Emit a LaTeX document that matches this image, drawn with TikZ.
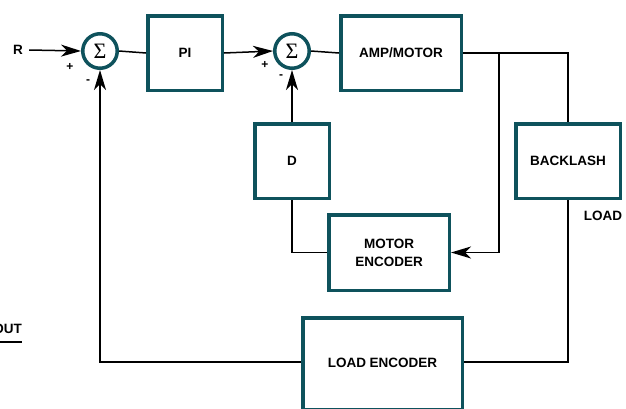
\documentclass[tikz,border=0pt]{standalone}
\usepackage{fontspec}
\setmainfont{Liberation Sans}
\newfontfamily\sigfont{Liberation Serif}
\usetikzlibrary{arrows.meta}
\definecolor{tealbox}{RGB}{14,82,92}
\begin{document}
\begin{tikzpicture}[x=1pt,y=-1pt,
  blk/.style={draw=tealbox, line width=3.5pt, fill=white, align=center, inner sep=0pt,
    font=\bfseries\fontsize{13.5}{18}\selectfont},
  sumnode/.style={circle, draw=tealbox, line width=3.5pt, minimum size=34.5pt, inner sep=0pt,
    font=\sigfont\fontsize{22}{22}\selectfont},
  wire/.style={line width=1.5pt, black},
  arr/.style={wire, -{Stealth[length=20pt,width=12pt,inset=6pt]}},
  lbl/.style={font=\bfseries\fontsize{13.5}{15}\selectfont, inner sep=0pt},
  sgn/.style={font=\bfseries\fontsize{12}{12}\selectfont, inner sep=0pt}]
\useasboundingbox (0,0) rectangle (626,408);

\node[sumnode] (s1) at (100,51) {Σ};
\node[sumnode] (s2) at (292,51) {Σ};
\node[blk, minimum width=74.5pt, minimum height=74.5pt] (pi) at (185,53) {PI};
\node[blk, minimum width=120.5pt, minimum height=74.5pt] (amp) at (401,53) {AMP/MOTOR};
\node[blk, minimum width=74.5pt, minimum height=74.5pt] (d) at (292,161) {D};
\node[blk, minimum width=104.5pt, minimum height=74.5pt] (bl) at (568,161) {BACKLASH};
\node[blk, minimum width=120.5pt, minimum height=75.5pt] (me) at (389,252.5) {MOTOR\\ENCODER};
\node[blk, minimum width=159.5pt, minimum height=92pt] (le) at (382.5,364) {\raisebox{2pt}{LOAD ENCODER}};

\node[lbl] (r) at (18,50) {R};
\node[lbl] (load) at (603,216) {LOAD};
\node[lbl, anchor=east] (out) at (22,329) {OUT};
\draw[line width=1.2pt] ([yshift=-8pt]out.south west) -- ([yshift=-8pt]out.south east);

\node[sgn] (p1) at (70,67) {+};
\node[sgn] (m1) at (88,82) {-};
\node[sgn] (p2) at (265,65) {+};
\node[sgn] (m2) at (281,77) {-};

\coordinate (br) at (499,53);

\draw[arr] ([xshift=6pt]r.east) -- (s1.west);
\draw[wire] (s1.east) -- (pi.west);
\draw[arr] (pi.east) -- (s2.west);
\draw[wire] (s2.east) -- (amp.west);
\draw[wire] (amp.east) -| (bl.north);
\draw[arr] (br) |- (me.east);
\draw[arr] (d.north) -- (s2.south);
\draw[wire] (d.south) |- (me.west);
\draw[wire] (bl.south) |- ([yshift=2pt]le.east);
\draw[arr] ([yshift=2pt]le.west) -| (s1.south);
\end{tikzpicture}
\end{document}
